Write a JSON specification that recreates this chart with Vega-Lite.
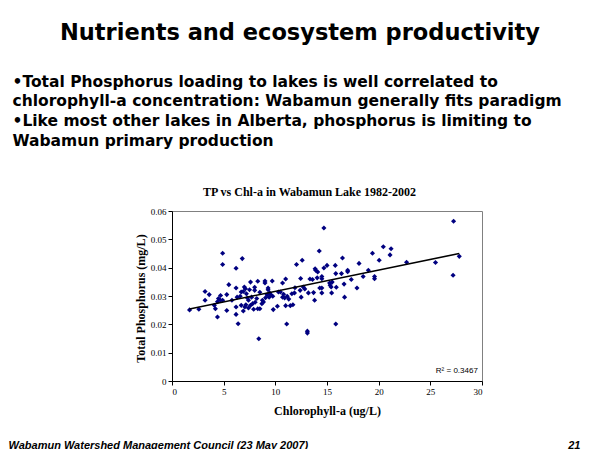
{
  "$schema": "https://vega.github.io/schema/vega-lite/v6.json",
  "width": 310,
  "height": 170,
  "autosize": {"type": "none"},
  "padding": {"left": 172, "top": 211, "right": 112, "bottom": 68},
  "background": "white",
  "config": {
    "view": {"stroke": "#808080", "strokeWidth": 1},
    "axis": {"grid": false}
  },
  "title": {
    "text": "Nutrients and ecosystem productivity",
    "font": "DejaVu Sans",
    "fontSize": 22.5,
    "fontWeight": "bold",
    "color": "black",
    "anchor": "middle",
    "frame": "group",
    "dx": -27,
    "offset": 30
  },
  "data": {
    "values": [
      {"chla": 1.7, "tp": 0.0251}, {"chla": 2.6, "tp": 0.0253}, {"chla": 3.2, "tp": 0.0316}, {"chla": 3.2, "tp": 0.0285},
      {"chla": 3.6, "tp": 0.0305}, {"chla": 4.1, "tp": 0.0267}, {"chla": 4.2, "tp": 0.0255}, {"chla": 4.4, "tp": 0.0226},
      {"chla": 4.4, "tp": 0.028}, {"chla": 4.5, "tp": 0.0291}, {"chla": 4.7, "tp": 0.0302}, {"chla": 4.7, "tp": 0.0285},
      {"chla": 4.9, "tp": 0.0451}, {"chla": 4.9, "tp": 0.0411}, {"chla": 4.9, "tp": 0.0285}, {"chla": 5.3, "tp": 0.0249},
      {"chla": 5.3, "tp": 0.0305}, {"chla": 5.5, "tp": 0.034}, {"chla": 5.8, "tp": 0.0285}, {"chla": 6.2, "tp": 0.0328},
      {"chla": 6.2, "tp": 0.0261}, {"chla": 6.2, "tp": 0.0235}, {"chla": 6.2, "tp": 0.0398}, {"chla": 6.4, "tp": 0.0202},
      {"chla": 6.3, "tp": 0.0296}, {"chla": 6.6, "tp": 0.0299}, {"chla": 6.7, "tp": 0.0314}, {"chla": 6.7, "tp": 0.0267},
      {"chla": 6.8, "tp": 0.0432}, {"chla": 6.9, "tp": 0.0316}, {"chla": 6.9, "tp": 0.0247}, {"chla": 7.0, "tp": 0.0332},
      {"chla": 7.05, "tp": 0.0261}, {"chla": 7.1, "tp": 0.0326}, {"chla": 7.15, "tp": 0.0269}, {"chla": 7.2, "tp": 0.0308},
      {"chla": 7.3, "tp": 0.0293}, {"chla": 7.4, "tp": 0.0285}, {"chla": 7.4, "tp": 0.0258}, {"chla": 7.5, "tp": 0.0322},
      {"chla": 7.6, "tp": 0.0349}, {"chla": 7.6, "tp": 0.0267}, {"chla": 7.7, "tp": 0.0296}, {"chla": 7.8, "tp": 0.0273},
      {"chla": 7.9, "tp": 0.0253}, {"chla": 8.0, "tp": 0.032}, {"chla": 8.0, "tp": 0.0331}, {"chla": 8.05, "tp": 0.0278},
      {"chla": 8.2, "tp": 0.0291}, {"chla": 8.3, "tp": 0.0352}, {"chla": 8.3, "tp": 0.0255}, {"chla": 8.4, "tp": 0.0149},
      {"chla": 8.5, "tp": 0.0255}, {"chla": 8.5, "tp": 0.0313}, {"chla": 8.7, "tp": 0.0273}, {"chla": 8.75, "tp": 0.0285},
      {"chla": 8.85, "tp": 0.0279}, {"chla": 9.0, "tp": 0.0346}, {"chla": 9.0, "tp": 0.0353}, {"chla": 9.05, "tp": 0.0294},
      {"chla": 9.2, "tp": 0.0304}, {"chla": 9.3, "tp": 0.0322}, {"chla": 9.3, "tp": 0.0328}, {"chla": 9.4, "tp": 0.0296},
      {"chla": 9.45, "tp": 0.0311}, {"chla": 9.55, "tp": 0.0305}, {"chla": 9.7, "tp": 0.0353}, {"chla": 9.75, "tp": 0.0299},
      {"chla": 9.8, "tp": 0.0252}, {"chla": 10.2, "tp": 0.0264}, {"chla": 10.3, "tp": 0.0314}, {"chla": 10.5, "tp": 0.0314},
      {"chla": 10.7, "tp": 0.0296}, {"chla": 10.7, "tp": 0.0346}, {"chla": 10.8, "tp": 0.0306}, {"chla": 10.9, "tp": 0.0293},
      {"chla": 11.0, "tp": 0.036}, {"chla": 11.0, "tp": 0.0266}, {"chla": 11.1, "tp": 0.0201}, {"chla": 11.15, "tp": 0.0299},
      {"chla": 11.3, "tp": 0.0289}, {"chla": 11.45, "tp": 0.0266}, {"chla": 11.6, "tp": 0.0308}, {"chla": 11.7, "tp": 0.0269},
      {"chla": 11.85, "tp": 0.0311}, {"chla": 11.9, "tp": 0.0329}, {"chla": 12.05, "tp": 0.0411}, {"chla": 12.4, "tp": 0.032},
      {"chla": 12.45, "tp": 0.0362}, {"chla": 12.5, "tp": 0.0296}, {"chla": 12.6, "tp": 0.0426}, {"chla": 12.7, "tp": 0.0332},
      {"chla": 12.85, "tp": 0.0325}, {"chla": 13.1, "tp": 0.0176}, {"chla": 13.1, "tp": 0.0169}, {"chla": 13.2, "tp": 0.0311},
      {"chla": 13.35, "tp": 0.036}, {"chla": 13.6, "tp": 0.0358}, {"chla": 13.7, "tp": 0.0312}, {"chla": 13.8, "tp": 0.0285},
      {"chla": 13.85, "tp": 0.0396}, {"chla": 13.9, "tp": 0.0391}, {"chla": 14.05, "tp": 0.0364}, {"chla": 14.1, "tp": 0.0385},
      {"chla": 14.25, "tp": 0.0459}, {"chla": 14.3, "tp": 0.0328}, {"chla": 14.5, "tp": 0.0328}, {"chla": 14.5, "tp": 0.0369},
      {"chla": 14.5, "tp": 0.0361}, {"chla": 14.5, "tp": 0.0311}, {"chla": 14.7, "tp": 0.054}, {"chla": 14.7, "tp": 0.0399},
      {"chla": 15.0, "tp": 0.0408}, {"chla": 15.25, "tp": 0.0346}, {"chla": 15.3, "tp": 0.0338}, {"chla": 15.4, "tp": 0.0332},
      {"chla": 15.45, "tp": 0.0311}, {"chla": 15.5, "tp": 0.0349}, {"chla": 15.8, "tp": 0.0408}, {"chla": 15.85, "tp": 0.0379},
      {"chla": 15.9, "tp": 0.0331}, {"chla": 15.85, "tp": 0.0201}, {"chla": 16.4, "tp": 0.0379}, {"chla": 16.5, "tp": 0.0434},
      {"chla": 16.65, "tp": 0.0342}, {"chla": 16.7, "tp": 0.0296}, {"chla": 17.0, "tp": 0.0391}, {"chla": 17.0, "tp": 0.0386},
      {"chla": 17.35, "tp": 0.0358}, {"chla": 17.9, "tp": 0.0328}, {"chla": 18.1, "tp": 0.0415}, {"chla": 18.5, "tp": 0.0369},
      {"chla": 19.0, "tp": 0.0391}, {"chla": 19.4, "tp": 0.0451}, {"chla": 19.6, "tp": 0.0369}, {"chla": 19.6, "tp": 0.0361},
      {"chla": 20.05, "tp": 0.0426}, {"chla": 20.45, "tp": 0.0474}, {"chla": 21.1, "tp": 0.0445}, {"chla": 21.2, "tp": 0.0467},
      {"chla": 22.7, "tp": 0.0419}, {"chla": 25.5, "tp": 0.0418}, {"chla": 27.2, "tp": 0.0373}, {"chla": 27.25, "tp": 0.0564},
      {"chla": 27.8, "tp": 0.044}
    ]
  },
  "layer": [
    {
      "mark": {"type": "point", "shape": "diamond", "filled": true, "size": 26, "color": "#000080", "opacity": 1},
      "encoding": {
        "x": {
          "field": "chla", "type": "quantitative",
          "scale": {"domain": [0, 30], "nice": false, "zero": false},
          "axis": {
            "orient": "bottom",
            "values": [0, 5, 10, 15, 20, 25, 30],
            "domainColor": "black", "tickColor": "black", "tickSize": 4,
            "labelFont": "Liberation Serif", "labelFontSize": 9, "labelColor": "black", "labelPadding": 2,
            "title": "Chlorophyll-a (ug/L)",
            "titleFont": "Liberation Serif", "titleFontSize": 12, "titleFontWeight": "bold", "titleColor": "black",
            "titleX": 155, "titleY": 33, "titleBaseline": "alphabetic", "titleAlign": "center"
          }
        },
        "y": {
          "field": "tp", "type": "quantitative",
          "scale": {"domain": [0, 0.06], "nice": false, "zero": false},
          "axis": {
            "orient": "left",
            "values": [0, 0.01, 0.02, 0.03, 0.04, 0.05, 0.06],
            "format": ".2~f",
            "domainColor": "black", "tickColor": "black", "tickSize": 4,
            "labelFont": "Liberation Serif", "labelFontSize": 9, "labelColor": "black", "labelPadding": 2,
            "title": "Total Phosphorus (mg/L)",
            "titleFont": "Liberation Serif", "titleFontSize": 12, "titleFontWeight": "bold", "titleColor": "black",
            "titleX": -32, "titleY": 87, "titleAngle": 270, "titleBaseline": "middle", "titleAlign": "center"
          }
        }
      }
    },
    {
      "transform": [{"regression": "tp", "on": "chla"}],
      "mark": {"type": "line", "color": "black", "strokeWidth": 1.5},
      "encoding": {
        "x": {
          "field": "chla", "type": "quantitative",
          "scale": {"domain": [0, 30], "nice": false, "zero": false},
          "axis": {
            "orient": "top", "domain": false, "ticks": false, "labels": false,
            "title": "TP vs Chl-a in Wabamun Lake 1982-2002",
            "titleFont": "Liberation Serif", "titleFontSize": 12, "titleFontWeight": "bold", "titleColor": "black",
            "titleX": 137, "titleY": -16, "titleBaseline": "alphabetic", "titleAlign": "center"
          }
        },
        "y": {
          "field": "tp", "type": "quantitative",
          "scale": {"domain": [0, 0.06], "nice": false, "zero": false},
          "axis": {
            "orient": "right", "domain": false, "ticks": false, "labels": false,
            "title": "Wabamun Watershed Management Council (23 May 2007)",
            "titleFont": "Liberation Sans", "titleFontSize": 11, "titleFontWeight": "bold", "titleFontStyle": "italic", "titleColor": "black",
            "titleAngle": 0, "titleX": -474, "titleY": 237, "titleBaseline": "alphabetic", "titleAlign": "left"
          }
        }
      }
    },
    {
      "data": {"values": [{"label": "R² = 0.3467"}]},
      "mark": {"type": "text", "font": "Liberation Sans", "fontSize": 8, "color": "black", "align": "right", "baseline": "middle"},
      "encoding": {
        "x": {
          "datum": 29.6, "type": "quantitative",
          "scale": {"domain": [0, 30], "nice": false, "zero": false},
          "axis": {
            "orient": "top", "domain": false, "ticks": false, "labels": false,
            "title": ["•Total Phosphorus loading to lakes is well correlated to", "chlorophyll-a concentration: Wabamun generally fits paradigm", "•Like most other lakes in Alberta, phosphorus is limiting to", "Wabamun primary production"],
            "titleFont": "DejaVu Sans", "titleFontSize": 15.5, "titleFontWeight": "bold", "titleColor": "black",
            "titleLineHeight": 19.7,
            "titleX": -160, "titleY": -125, "titleBaseline": "alphabetic", "titleAlign": "left"
          }
        },
        "y": {
          "datum": 0.0034, "type": "quantitative",
          "scale": {"domain": [0, 0.06], "nice": false, "zero": false},
          "axis": {
            "orient": "right", "domain": false, "ticks": false, "labels": false,
            "title": "21",
            "titleFont": "Liberation Sans", "titleFontSize": 11, "titleFontWeight": "bold", "titleFontStyle": "italic", "titleColor": "black",
            "titleAngle": 0, "titleX": 98, "titleY": 237, "titleBaseline": "alphabetic", "titleAlign": "right"
          }
        },
        "text": {"field": "label", "type": "nominal"}
      }
    }
  ],
  "resolve": {"axis": {"x": "independent", "y": "independent"}}
}
